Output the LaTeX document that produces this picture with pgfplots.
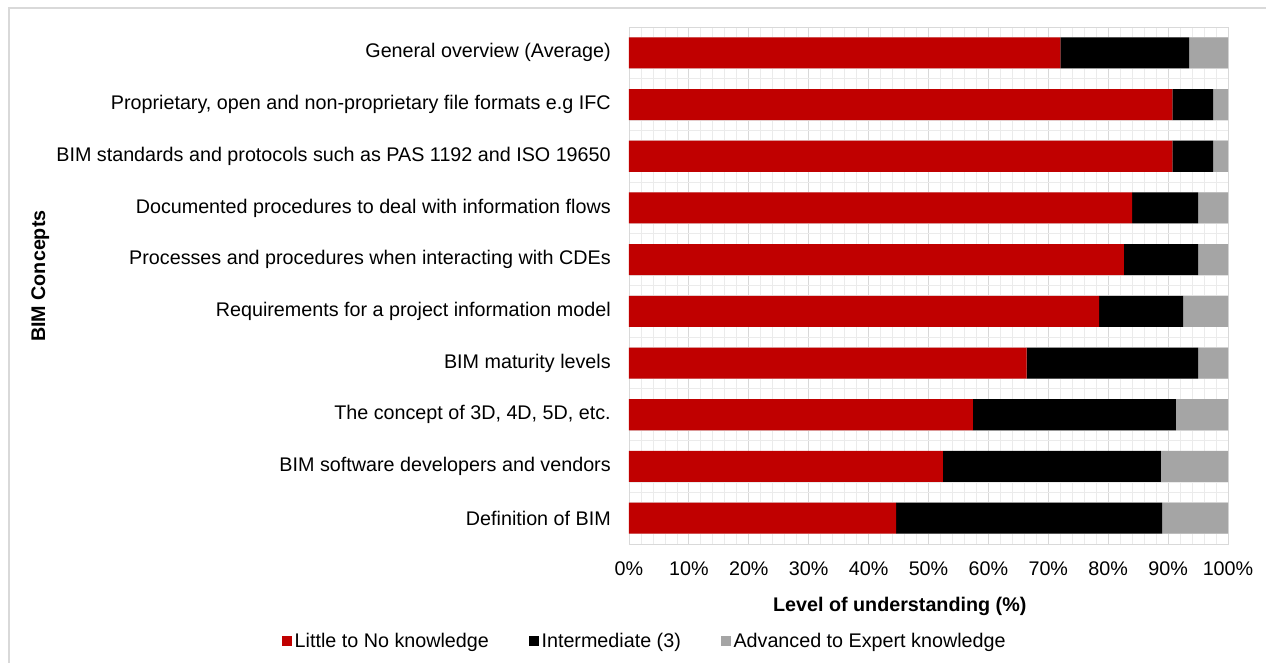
\documentclass[border=0pt]{standalone}
\usepackage{fontspec}
\setmainfont{Liberation Sans}
\usepackage{pgfplots}
\pgfplotsset{compat=1.18}
\definecolor{cred}{HTML}{C00000}
\definecolor{cgrey}{HTML}{A5A5A5}
\definecolor{gmaj}{HTML}{D9D9D9}
\definecolor{gmin}{HTML}{EBEBEB}
\begin{document}
\begin{tikzpicture}[x=1pt,y=1pt]
\path[use as bounding box, fill=white] (-471.75,-89.25) rectangle (477.75,408);
\draw[color=gmaj, line width=0.9pt] (-465,-89.25) -- (-465,402) -- (477.75,402);
\begin{axis}[
  at={(0,0)}, anchor=south west, scale only axis,
  width=449.25pt, height=387.75pt,
  xbar stacked, bar width=23.3pt,
  xmin=0, xmax=100, ymin=-0.5, ymax=9.5,
  xtick={0,10,...,100},
  xticklabel={\pgfmathprintnumber{\tick}\%},
  minor x tick num=4,
  ytick={0,...,9},
  yticklabels={Definition of BIM, BIM software developers and vendors, {The concept of 3D, 4D, 5D, etc.}, BIM maturity levels, Requirements for a project information model, Processes and procedures when interacting with CDEs, Documented procedures to deal with information flows, BIM standards and protocols such as PAS 1192 and ISO 19650, {Proprietary, open and non-proprietary file formats e.g IFC}, General overview (Average)},
  minor ytick={-0.5,-0.3,...,9.6},
  major tick length=0pt, minor tick length=0pt,
  xmajorgrids, xminorgrids, yminorgrids,
  major grid style={draw=gmaj, line width=0.6pt},
  minor grid style={draw=gmin, line width=0.6pt},
  axis line style={draw=gmaj, line width=0.6pt},
  tick label style={font=\fontsize{14.8}{17}\selectfont, inner sep=0pt},
  /pgf/number format/assume math mode=true,
  yticklabel style={anchor=east, xshift=-13.5pt},
  xticklabel style={anchor=north, yshift=-13pt},
  xlabel={\textbf{Level of understanding (\%)}},
  ylabel={\textbf{BIM Concepts}},
  label style={font=\fontsize{14.8}{17}\selectfont},
  xlabel style={at={(axis description cs:0.452,-0.12)}, anchor=center},
  ylabel style={at={(axis description cs:-0.983,0.518)}, anchor=center, rotate=0},
  legend style={at={(axis description cs:0.027,-0.1876)}, anchor=center, draw=none, fill=none,
    font=\fontsize{14.8}{17}\selectfont, legend columns=3,
    /tikz/every even column/.append style={column sep=28pt},
    inner sep=0pt},
  legend image code/.code={\fill[#1] (0pt,-3.75pt) rectangle (7.5pt,3.75pt);},
  legend cell align=left,
  clip=false,
  axis on top=false,
]
\addplot+[fill=cred, draw=none] coordinates {(44.6,0) (52.4,1) (57.4,2) (66.4,3) (78.5,4) (82.6,5) (84.0,6) (90.7,7) (90.7,8) (72.0,9)};
\addplot+[fill=black, draw=none] coordinates {(44.4,0) (36.4,1) (33.9,2) (28.6,3) (14.0,4) (12.4,5) (11.0,6) (6.8,7) (6.8,8) (21.5,9)};
\addplot+[fill=cgrey, draw=none] coordinates {(11.0,0) (11.2,1) (8.7,2) (5.0,3) (7.5,4) (5.0,5) (5.0,6) (2.5,7) (2.5,8) (6.5,9)};
\legend{Little to No knowledge, Intermediate (3), Advanced to Expert knowledge}
\end{axis}
\end{tikzpicture}
\end{document}
